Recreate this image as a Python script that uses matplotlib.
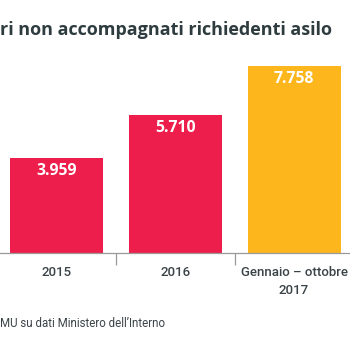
import numpy as np
import matplotlib
matplotlib.use("Agg")
import matplotlib.pyplot as plt

# data
categories = ["2015", "2016", "Gennaio – ottobre\n2017"]
values = [3959, 5710, 7758]
value_labels = ["3.959", "5.710", "7.758"]
colors = ["#ED1E4B", "#ED1E4B", "#FDB71D"]

title = "ri non accompagnati richiedenti asilo"
source = "MU su dati Ministero dell’Interno"

W = H = 350
fig = plt.figure(figsize=(W / 100, H / 100), dpi=100, facecolor="white")

# axes in pixel terms: x from -2.9 to 353.4, baseline at y=253, top at 48
left, right = -2.9, 353.4
bottom_px, top_px = 253, 48
ax = fig.add_axes([left / W, 1 - bottom_px / H, (right - left) / W, (bottom_px - top_px) / H])

x = np.arange(len(categories))
ax.bar(x, values, width=0.783, color=colors, zorder=2)
ax.set_xlim(-0.5, 2.5)
ax.set_ylim(0, 8500)

for xi, v, lab in zip(x, values, value_labels):
    ax.annotate(lab, (xi, v), xytext=(0, -9.5), textcoords="offset points",
                ha="center", va="center", color="white", fontsize=11.3,
                fontweight="bold", family="Open Sans")

for s in ["top", "right", "left"]:
    ax.spines[s].set_visible(False)
ax.spines["bottom"].set_color("#9a9a9a")
ax.spines["bottom"].set_linewidth(0.9)
ax.set_yticks([])
ax.set_xticks(x)
ax.set_xticklabels(categories, fontsize=9.5, color="#3a4347", family="Roboto",
                   fontweight="medium", linespacing=1.55)
ax.set_xticks([0.5, 1.5], minor=True)
ax.tick_params(axis="x", which="major", length=0, pad=9)
ax.tick_params(axis="x", which="minor", length=8.6, width=0.9, color="#9a9a9a")

fig.text(0.0, 1 - 35 / H, title, ha="left", va="baseline", fontsize=13,
         fontweight="bold", color="#2e3c40", family="Open Sans")
fig.text(0.0, 1 - 327 / H, source, ha="left", va="baseline", fontsize=8.3,
         color="#3a4347", family="Roboto")

fig.savefig("out.png", dpi=100, facecolor="white")
